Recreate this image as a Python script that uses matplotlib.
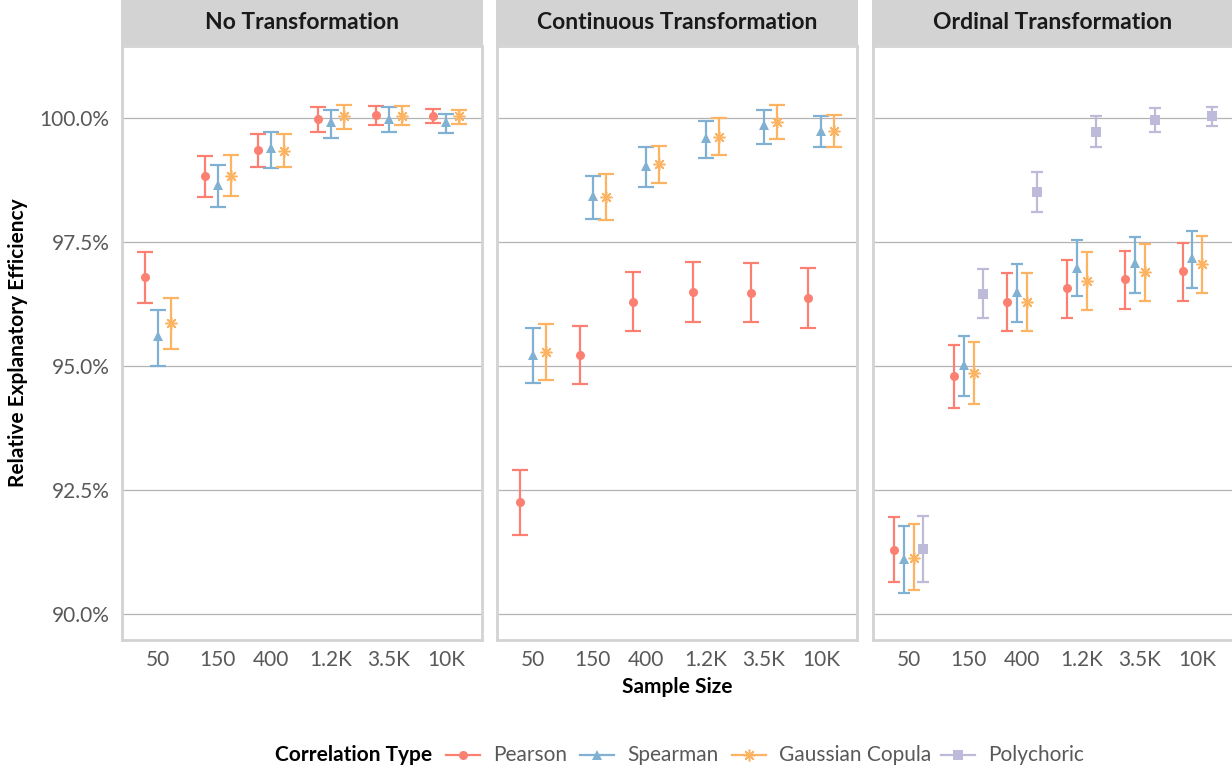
import numpy as np
import matplotlib
matplotlib.use("Agg")
import matplotlib.pyplot as plt
from matplotlib.lines import Line2D
from matplotlib.ticker import FixedLocator, NullLocator

plt.rcParams['font.family'] = ['Lato', 'DejaVu Sans']

sizes = [50, 150, 400, 1200, 3500, 10000]
size_labels = ["50", "150", "400", "1.2K", "3.5K", "10K"]
panel_titles = ["No Transformation", "Continuous Transformation", "Ordinal Transformation"]
methods = ["Pearson", "Spearman", "Gaussian Copula", "Polychoric"]
colors = ["#FB8072", "#80B1D3", "#FDB462", "#BEBADA"]
markers = ["o", "^", (8, 2, 0), "s"]

# No Transformation
none_pearson = [96.79, 98.83, 99.35, 99.97, 100.05, 100.04]
none_pearson_lo = [96.28, 98.41, 99.02, 99.72, 99.85, 99.89]
none_pearson_hi = [97.30, 99.23, 99.68, 100.22, 100.24, 100.18]
none_spearman = [95.60, 98.65, 99.39, 99.91, 99.98, 99.91]
none_spearman_lo = [95.01, 98.20, 99.00, 99.60, 99.72, 99.69]
none_spearman_hi = [96.12, 99.06, 99.72, 100.16, 100.23, 100.08]
none_gauss = [95.86, 98.84, 99.34, 100.03, 100.04, 100.03]
none_gauss_lo = [95.34, 98.42, 99.01, 99.78, 99.86, 99.87]
none_gauss_hi = [96.38, 99.25, 99.68, 100.26, 100.25, 100.17]

# Continuous Transformation
cont_pearson = [92.26, 95.22, 96.30, 96.49, 96.48, 96.37]
cont_pearson_lo = [91.60, 94.63, 95.71, 95.89, 95.88, 95.77]
cont_pearson_hi = [92.90, 95.81, 96.89, 97.09, 97.07, 96.97]
cont_spearman = [95.22, 98.43, 99.03, 99.59, 99.86, 99.74]
cont_spearman_lo = [94.65, 97.96, 98.61, 99.19, 99.48, 99.41]
cont_spearman_hi = [95.77, 98.84, 99.41, 99.94, 100.17, 100.04]
cont_gauss = [95.28, 98.41, 99.07, 99.62, 99.92, 99.73]
cont_gauss_lo = [94.71, 97.95, 98.68, 99.25, 99.57, 99.41]
cont_gauss_hi = [95.84, 98.87, 99.44, 99.99, 100.26, 100.06]

# Ordinal Transformation
ord_pearson = [91.30, 94.80, 96.30, 96.57, 96.75, 96.92]
ord_pearson_lo = [90.65, 94.16, 95.71, 95.97, 96.16, 96.32]
ord_pearson_hi = [91.96, 95.42, 96.88, 97.14, 97.32, 97.49]
ord_spearman = [91.12, 95.02, 96.50, 96.97, 97.07, 97.17]
ord_spearman_lo = [90.43, 94.40, 95.89, 96.41, 96.48, 96.58]
ord_spearman_hi = [91.78, 95.61, 97.06, 97.54, 97.61, 97.72]
ord_gauss = [91.13, 94.87, 96.29, 96.71, 96.90, 97.06]
ord_gauss_lo = [90.48, 94.23, 95.71, 96.12, 96.32, 96.47]
ord_gauss_hi = [91.81, 95.48, 96.87, 97.29, 97.46, 97.63]
ord_poly = [91.31, 96.46, 98.51, 99.72, 99.96, 100.03]
ord_poly_lo = [90.65, 95.96, 98.11, 99.41, 99.71, 99.83]
ord_poly_hi = [91.98, 96.95, 98.91, 100.04, 100.21, 100.22]

panels = [
    [(none_pearson, none_pearson_lo, none_pearson_hi),
     (none_spearman, none_spearman_lo, none_spearman_hi),
     (none_gauss, none_gauss_lo, none_gauss_hi)],
    [(cont_pearson, cont_pearson_lo, cont_pearson_hi),
     (cont_spearman, cont_spearman_lo, cont_spearman_hi),
     (cont_gauss, cont_gauss_lo, cont_gauss_hi)],
    [(ord_pearson, ord_pearson_lo, ord_pearson_hi),
     (ord_spearman, ord_spearman_lo, ord_spearman_hi),
     (ord_gauss, ord_gauss_lo, ord_gauss_hi),
     (ord_poly, ord_poly_lo, ord_poly_hi)],
]

W, H = 1232, 772
fig = plt.figure(figsize=(W / 100, H / 100), dpi=100)

lefts = [122, 497, 873]
pw = 360
top, bottom = 46, 640
dodge = 0.31  # in decades
border = "#d3d3d3"
tick_col = "#595959"


def marker_style(i):
    if i == 2:
        return dict(marker=markers[i], markersize=8.5, markeredgewidth=1.1)
    return dict(marker=markers[i], markersize=6.5 if i != 1 else 7.5, markeredgewidth=0)


for p, (left, title, series) in enumerate(zip(lefts, panel_titles, panels)):
    ax = fig.add_axes([left / W, 1 - bottom / H, pw / W, (bottom - top) / H])
    n = len(series)
    cap = 5.8 if n == 3 else 4.4
    for i, (est, lo, hi) in enumerate(series):
        off = (i - (n - 1) / 2) * dodge / n
        x = np.array(sizes) * 10 ** off
        est = np.array(est)
        yerr = [est - np.array(lo), np.array(hi) - est]
        ax.errorbar(x, est, yerr=yerr, fmt="none", ecolor=colors[i], elinewidth=1.6,
                    capsize=cap, capthick=1.6, zorder=3)
        ax.plot(x, est, linestyle="none", color=colors[i], zorder=4, **marker_style(i))
    ax.set_xscale("log")
    ax.set_xlim(10 ** 1.412, 10 ** 4.287)
    ax.xaxis.set_major_locator(FixedLocator(sizes))
    ax.xaxis.set_minor_locator(NullLocator())
    ax.set_xticklabels(size_labels)
    ax.set_ylim(89.48, 101.45)
    yt = [90, 92.5, 95, 97.5, 100]
    ax.set_yticks(yt)
    ax.set_yticklabels([f"{v:.1f}%" for v in yt] if p == 0 else [])
    ax.tick_params(length=0, labelsize=15, labelcolor=tick_col, pad=7)
    ax.tick_params(axis="y", pad=9)
    ax.grid(axis="y", color="#b3b3b3", linewidth=0.9)
    ax.set_axisbelow(True)
    for s in ax.spines.values():
        s.set_color(border)
        s.set_linewidth(2)
    # facet strip
    sax = fig.add_axes([(left - 1) / W, 1 - 45 / H, (pw + 2) / W, 45 / H])
    sax.set_facecolor(border)
    sax.set_xticks([])
    sax.set_yticks([])
    for s in sax.spines.values():
        s.set_visible(False)
    sax.text(0.5, 0.5, title, ha="center", va="center", fontsize=16.5,
             fontweight="bold", color="#1a1a1a", transform=sax.transAxes)

fig.text(18 / W, 1 - 343 / H, "Relative Explanatory Efficiency", rotation=90,
         ha="center", va="center", fontsize=15, fontweight="bold", color="black")
fig.text(677 / W, 1 - 687 / H, "Sample Size", ha="center", va="center",
         fontsize=15, fontweight="bold", color="black")

# legend drawn by hand so the title sits on the left, as in ggplot
ly = 1 - 755 / H
fig.text(275 / W, ly, "Correlation Type", ha="left", va="center",
         fontsize=15, fontweight="bold", color="black")
key_centers = [463, 597, 749, 958]
for i, name in enumerate(methods):
    cx = key_centers[i]
    fig.add_artist(Line2D([(cx - 17) / W, (cx + 17) / W], [ly, ly], color=colors[i],
                          lw=1.6, transform=fig.transFigure))
    fig.add_artist(Line2D([cx / W], [ly], color=colors[i], linestyle="none",
                          transform=fig.transFigure, **marker_style(i)))
    fig.text((cx + 30) / W, ly, name, ha="left", va="center", fontsize=15,
             color=tick_col)

fig.savefig("out.png", dpi=100)
